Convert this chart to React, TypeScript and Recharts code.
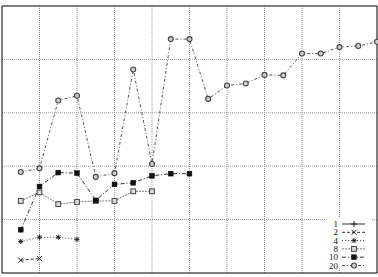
import React from 'react';
import { LineChart, Line, XAxis, YAxis, ReferenceLine, Legend } from 'recharts';

const xValues = [1, 2, 3, 4, 5, 6, 7, 8, 9, 10, 11, 12, 13, 14, 15, 16, 17, 18, 19, 20];
const series1: number[] = [];
const series2 = [0.24, 0.27];
const series4 = [0.59, 0.67, 0.67, 0.63];
const series8 = [1.35, 1.51, 1.29, 1.33, 1.35, 1.35, 1.53, 1.53];
const series10 = [0.81, 1.62, 1.88, 1.87, 1.36, 1.66, 1.69, 1.82, 1.86, 1.86];
const series20 = [1.89, 1.96, 3.23, 3.32, 1.8, 1.87, 3.81, 2.04, 4.38, 4.38, 3.26, 3.51, 3.55, 3.71, 3.7, 4.11, 4.11, 4.23, 4.25, 4.33];
const seriesNames = ['1', '2', '4', '8', '10', '20'];
const xTicks = [0, 2, 4, 6, 8, 10, 12, 14, 16, 18, 20];
const yTicks = [0, 1, 2, 3, 4, 5];

const allSeries = [series1, series2, series4, series8, series10, series20];
const markerKinds = ['plus', 'cross', 'star', 'square', 'fsquare', 'circle'];
const dashes = ['', '3 2', '1 2', '2 1', '4 2 1 2', '3 2 1 2'];
const lineColors = ['#333', '#333', '#444', '#777', '#333', '#555'];

function Marker({ kind, cx, cy }: { kind: string; cx: number; cy: number }) {
  if (cx == null || cy == null || isNaN(cx) || isNaN(cy)) return null;
  switch (kind) {
    case 'plus':
      return <path d={`M${cx - 3},${cy}H${cx + 3}M${cx},${cy - 3}V${cy + 3}`} stroke="#222" strokeWidth={1} fill="none" />;
    case 'cross':
      return <path d={`M${cx - 2.5},${cy - 2.5}L${cx + 2.5},${cy + 2.5}M${cx - 2.5},${cy + 2.5}L${cx + 2.5},${cy - 2.5}`} stroke="#222" strokeWidth={1} fill="none" />;
    case 'star':
      return (
        <path d={`M${cx - 2.5},${cy}H${cx + 2.5}M${cx},${cy - 2.5}V${cy + 2.5}M${cx - 2},${cy - 2}L${cx + 2},${cy + 2}M${cx - 2},${cy + 2}L${cx + 2},${cy - 2}`} stroke="#222" strokeWidth={1} fill="none" />
      );
    case 'square':
      return <rect x={cx - 2.4} y={cy - 2.4} width={4.8} height={4.8} stroke="#444" strokeWidth={1} fill="#ddd" />;
    case 'fsquare':
      return <rect x={cx - 2.4} y={cy - 2.4} width={4.8} height={4.8} stroke="#000" strokeWidth={0.5} fill="#111" />;
    case 'circle':
      return <circle cx={cx} cy={cy} r={2.5} stroke="#444" strokeWidth={1.1} fill="#ccc" />;
    default:
      return null;
  }
}

function LegendBox() {
  const rowY = (i: number) => 5 + i * 8.3;
  return (
    <svg width={52} height={56} style={{ display: 'block', overflow: 'visible' }}>
      <rect x={1} y={-2} width={46} height={50} fill="#fff" />
      {seriesNames.map((name, i) => (
        <g key={name}>
          <text x={13} y={rowY(i) + 3} textAnchor="end" fontSize={9} fontFamily="'Liberation Serif', serif" style={{ fill: '#111' }}>
            {name}
          </text>
          <line x1={17} x2={40} y1={rowY(i)} y2={rowY(i)} stroke={lineColors[i]} strokeWidth={1} strokeDasharray={dashes[i] || undefined} />
          <Marker kind={markerKinds[i]} cx={29} cy={rowY(i)} />
        </g>
      ))}
    </svg>
  );
}

export default function App() {
  return (
    <div style={{ position: 'absolute', left: 0, top: 0, width: 378, height: 277, background: '#fff' }}>
      <LineChart width={378} height={277} margin={{ top: 6, right: 1, bottom: 4, left: 2 }}>
        <XAxis xAxisId={0} type="number" dataKey="x" domain={[0, 20]} ticks={xTicks} orientation="bottom" height={1} mirror tick={false} tickSize={4} stroke="#000" axisLine={{ stroke: '#000' }} />
        <XAxis xAxisId="top" type="number" dataKey="x" domain={[0, 20]} ticks={xTicks} orientation="top" height={1} mirror tick={false} tickSize={4} stroke="#000" axisLine={{ stroke: '#000' }} />
        <YAxis yAxisId={0} type="number" domain={[0, 5]} ticks={yTicks} orientation="left" width={1} mirror tick={false} tickSize={4} stroke="#000" axisLine={{ stroke: '#000' }} />
        <YAxis yAxisId="right" type="number" domain={[0, 5]} ticks={yTicks} orientation="right" width={1} mirror tick={false} tickSize={4} stroke="#000" axisLine={{ stroke: '#000' }} />
        {xTicks.slice(1, -1).map((t) => (
          <ReferenceLine key={`gx${t}`} x={t} xAxisId={0} yAxisId={0} stroke="#999" strokeWidth={1} strokeDasharray="1 1" />
        ))}
        {yTicks.slice(1, -1).map((t) => (
          <ReferenceLine key={`gy${t}`} y={t} xAxisId={0} yAxisId={0} stroke="#999" strokeWidth={1} strokeDasharray="1 1" />
        ))}
        {allSeries.map((s, si) => (
          <Line
            key={seriesNames[si]}
            name={seriesNames[si]}
            data={s.map((y, i) => ({ x: xValues[i], y }))}
            dataKey="y"
            xAxisId={0}
            yAxisId={0}
            stroke={lineColors[si]}
            strokeWidth={1}
            strokeDasharray={dashes[si] || undefined}
            isAnimationActive={false}
            dot={(p: any) => <Marker key={`${si}-${p.index}`} kind={markerKinds[si]} cx={p.cx} cy={p.cy} />}
            activeDot={false}
          />
        ))}
        <Legend
          layout="horizontal"
          align="center"
          verticalAlign="middle"
          content={() => <LegendBox />}
          wrapperStyle={{ position: 'absolute', left: 325, top: 219, width: 52, height: 56 }}
        />
      </LineChart>
    </div>
  );
}
